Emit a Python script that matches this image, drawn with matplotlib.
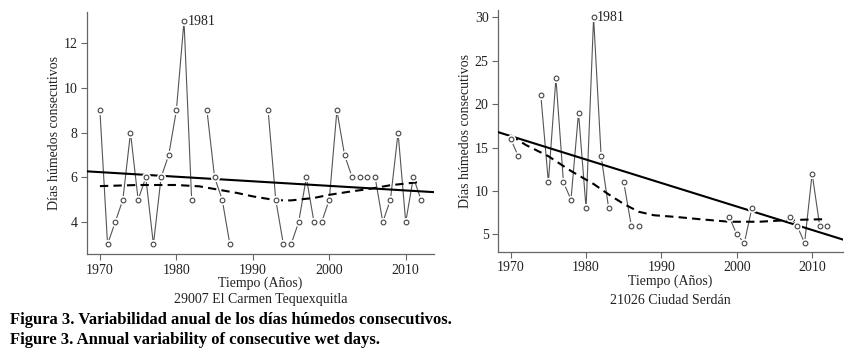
import numpy as np
import matplotlib
matplotlib.use("Agg")
import matplotlib.pyplot as plt

plt.rcParams['font.family'] = ['Liberation Serif', 'DejaVu Serif']

years = list(range(1970, 2013))
nan = np.nan
# 29007 El Carmen Tequexquitla
left_vals = [9, 3, 4, 5, 8, 5, 6, 3, 6, 7, 9, 13, 5, nan, 9, 6, 5, 3, nan, nan,
             nan, nan, 9, 5, 3, 3, 4, 6, 4, 4, 5, 9, 7, 6, 6, 6, 6, 4, 5, 8, 4, 6, 5]
left_trend_years = [1968.35, 2013.7]
left_trend_vals = [6.27, 5.34]
left_smooth_years = [1970, 1975, 1980, 1983, 1985, 1988, 1990, 1993, 1995, 1998,
                     2000, 2003, 2005, 2008, 2012]
left_smooth_vals = [5.61, 5.66, 5.66, 5.6, 5.48, 5.3, 5.15, 4.98, 4.97, 5.08,
                    5.22, 5.38, 5.47, 5.65, 5.8]

# 21026 Ciudad Serdán
right_vals = [16, 14, nan, nan, 21, 11, 23, 11, 9, 19, 8, 30, 14, 8, nan, 11, 6, 6,
              nan, nan, nan, nan, nan, nan, nan, nan, nan, nan, nan, 7, 5, 4, 8,
              nan, nan, nan, nan, 7, 6, 4, 12, 6, 6]
right_trend_years = [1968.35, 2014.0]
right_trend_vals = [16.77, 4.42]
right_smooth_years = [1970, 1972, 1975, 1978, 1981, 1983, 1985, 1987, 1989, 1992,
                      1995, 1999, 2003, 2007, 2012]
right_smooth_vals = [16.4, 15.3, 14.0, 12.3, 10.8, 9.6, 8.5, 7.6, 7.2, 7.0,
                     6.75, 6.45, 6.45, 6.65, 6.75]

xticks = [1970, 1980, 1990, 2000, 2010]
left_yticks = [4, 6, 8, 10, 12]
right_yticks = [5, 10, 15, 20, 25, 30]
ylabel = "Días húmedos consecutivos"
xlabel = "Tiempo (Años)"
station_left = "29007 El Carmen Tequexquitla"
station_right = "21026 Ciudad Serdán"
caption1 = "Figura 3. Variabilidad anual de los días húmedos consecutivos."
caption2 = "Figure 3. Annual variability of consecutive wet days."

fig = plt.figure(figsize=(8.5, 3.57), dpi=100)
axL = fig.add_axes([0.1027, 0.2885, 0.4079, 0.6775])
axR = fig.add_axes([0.5862, 0.295, 0.4056, 0.677])

TXT = '#222222'


def draw(ax, vals, ty, tv, sy, sv, yticks, ylim, xlim, peak_label):
    y = np.array(vals, dtype=float)
    ax.plot(years, y, color='#555555', lw=0.8, zorder=2)
    ax.plot(ty, tv, color='black', lw=1.5, zorder=3)
    ax.plot(sy, sv, color='black', lw=1.5, ls=(0, (4, 2.5)), zorder=3)
    ax.plot(years, y, ls='none', marker='o', ms=5.6, mfc='white', mec='white',
            zorder=4)
    ax.plot(years, y, ls='none', marker='o', ms=3.4, mfc='white', mec='#444444',
            mew=0.8, zorder=5)
    i = int(np.nanargmax(y))
    ax.annotate(peak_label, (years[i], y[i]), xytext=(2.5, 0),
                textcoords='offset points', va='center', ha='left', fontsize=10,
                color=TXT)
    ax.set_xlim(*xlim)
    ax.set_ylim(*ylim)
    ax.set_xticks(xticks)
    ax.set_yticks(yticks)
    for s in ['top', 'right']:
        ax.spines[s].set_visible(False)
    for s in ['left', 'bottom']:
        ax.spines[s].set_color('#666666')
        ax.spines[s].set_linewidth(0.9)
    ax.tick_params(direction='out', length=4, width=0.8, labelsize=10,
                   color='#666666', labelcolor=TXT, pad=3)
    ax.set_ylabel(ylabel, fontsize=10, labelpad=2, color=TXT)
    ax.set_xlabel(xlabel, fontsize=10, labelpad=0, color=TXT)


draw(axL, left_vals, left_trend_years, left_trend_vals, left_smooth_years,
     left_smooth_vals, left_yticks, (2.57, 13.4), (1968.35, 2013.7), "1981")
draw(axR, right_vals, right_trend_years, right_trend_vals, right_smooth_years,
     right_smooth_vals, right_yticks, (3.0, 30.85), (1968.35, 2014.1), "1981")

fig.text(260.5 / 850, 1 - 300 / 357, station_left, ha='center', va='center',
         fontsize=10, color=TXT)
fig.text(670.5 / 850, 1 - 300 / 357, station_right, ha='center', va='center',
         fontsize=10, color=TXT)
fig.text(10 / 850, 1 - 320 / 357, caption1, ha='left', va='center',
         fontsize=12, fontweight='bold')
fig.text(10 / 850, 1 - 340 / 357, caption2, ha='left', va='center',
         fontsize=12, fontweight='bold')

fig.savefig("out.png", dpi=100)
